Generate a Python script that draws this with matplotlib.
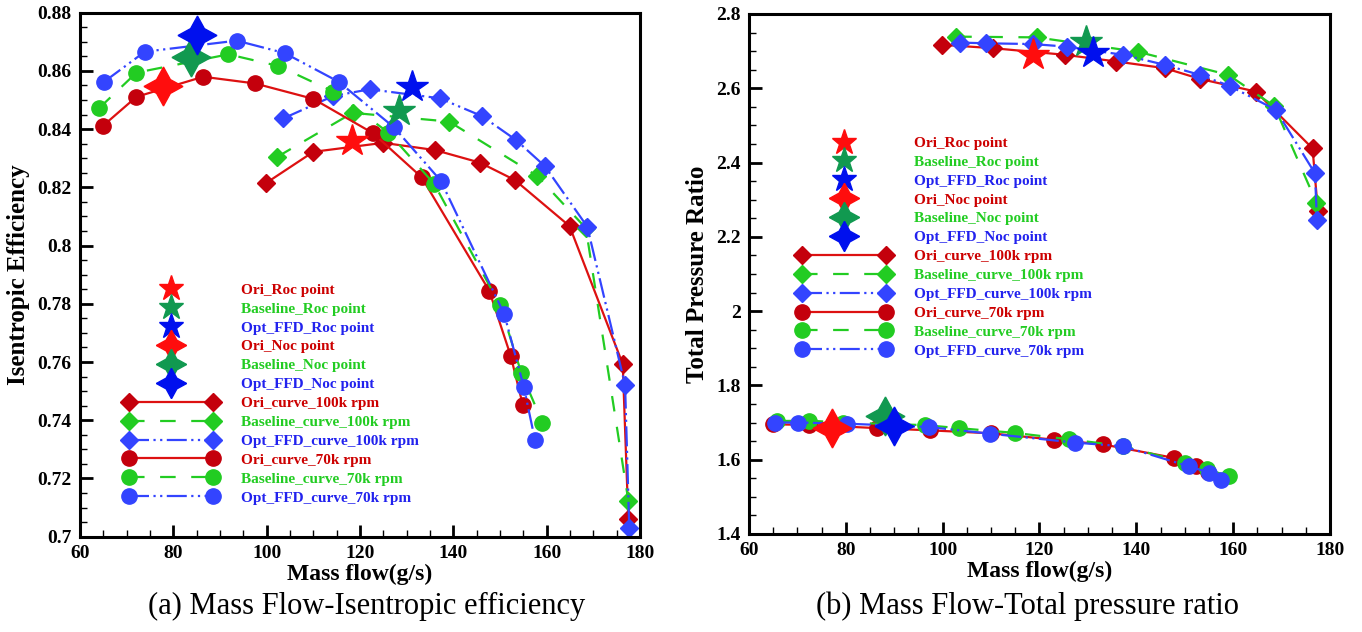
import matplotlib
matplotlib.use('Agg')
import matplotlib.pyplot as plt
from matplotlib.ticker import MultipleLocator, FormatStrFormatter
from matplotlib.legend_handler import HandlerLine2D

plt.rcParams['font.family'] = ['Liberation Serif', 'DejaVu Serif']
plt.rcParams['font.weight'] = 'bold'
plt.rcParams['axes.labelweight'] = 'bold'

# ---------------- (a) mass flow vs isentropic efficiency ----------------
eff_ori100_x = [99.8, 110.0, 125.0, 136.1, 145.7, 153.2, 164.9, 176.3, 177.5]
eff_ori100_y = [0.8214, 0.8322, 0.8353, 0.8328, 0.8285, 0.8225, 0.8067, 0.7593, 0.7060]
eff_base100_x = [102.3, 118.4, 139.1, 158.0, 168.4, 177.5]
eff_base100_y = [0.8305, 0.8456, 0.8426, 0.8239, 0.8060, 0.7124]
eff_opt100_x = [103.6, 114.3, 122.1, 137.1, 146.1, 153.4, 159.6, 168.7, 176.8, 177.7]
eff_opt100_y = [0.8437, 0.8514, 0.8537, 0.8506, 0.8445, 0.8363, 0.8273, 0.8065, 0.7521, 0.7029]

eff_ori70_x = [64.9, 72.1, 86.4, 97.5, 110.0, 122.8, 133.2, 147.7, 152.3, 154.9]
eff_ori70_y = [0.8411, 0.8511, 0.8580, 0.8557, 0.8504, 0.8386, 0.8235, 0.7845, 0.7621, 0.7452]
eff_base70_x = [64.1, 72.1, 91.8, 102.5, 114.3, 126.1, 135.9, 150.0, 154.6, 159.1]
eff_base70_y = [0.8472, 0.8594, 0.8657, 0.8617, 0.8529, 0.8388, 0.8212, 0.7796, 0.7561, 0.7392]
eff_opt70_x = [65.2, 73.9, 93.6, 103.9, 115.4, 127.3, 137.3, 150.9, 155.1, 157.5]
eff_opt70_y = [0.8563, 0.8666, 0.8704, 0.8661, 0.8563, 0.8406, 0.8223, 0.7765, 0.7515, 0.7332]

# Roc / Noc points: ori, baseline, opt
eff_roc_x = [118.2, 128.4, 131.1]
eff_roc_y = [0.8360, 0.8464, 0.8546]
eff_noc_x = [77.7, 83.7, 85.1]
eff_noc_y = [0.8548, 0.8649, 0.8723]

# ---------------- (b) mass flow vs total pressure ratio ----------------
pr_ori100_x = [99.8, 110.3, 125.3, 135.9, 145.9, 153.2, 164.7, 176.4, 177.5]
pr_ori100_y = [2.717, 2.708, 2.690, 2.672, 2.654, 2.625, 2.591, 2.438, 2.270]
pr_base100_x = [102.8, 119.4, 140.4, 159.0, 168.5, 177.2]
pr_base100_y = [2.739, 2.737, 2.698, 2.636, 2.552, 2.292]
pr_opt100_x = [103.6, 109.0, 118.6, 125.6, 137.3, 145.9, 153.1, 159.3, 168.8, 176.9, 177.3]
pr_opt100_y = [2.723, 2.721, 2.719, 2.712, 2.690, 2.663, 2.636, 2.606, 2.542, 2.371, 2.245]

pr_ori70_x = [65.0, 72.3, 86.4, 97.4, 110.0, 122.9, 133.2, 147.7, 152.3, 154.9]
pr_ori70_y = [1.695, 1.694, 1.685, 1.679, 1.671, 1.654, 1.641, 1.605, 1.582, 1.568]
pr_base70_x = [65.7, 72.5, 79.5, 96.4, 103.3, 115.0, 126.0, 137.2, 150.0, 154.6, 159.1]
pr_base70_y = [1.704, 1.705, 1.700, 1.693, 1.685, 1.672, 1.655, 1.637, 1.592, 1.575, 1.555]
pr_opt70_x = [65.4, 70.2, 80.2, 97.1, 109.8, 127.4, 137.3, 150.9, 155.1, 157.5]
pr_opt70_y = [1.700, 1.700, 1.697, 1.688, 1.670, 1.646, 1.636, 1.582, 1.565, 1.545]

pr_roc_x = [118.6, 129.6, 131.0]
pr_roc_y = [2.690, 2.725, 2.696]
pr_noc_x = [77.1, 88.1, 90.0]
pr_noc_y = [1.684, 1.717, 1.692]

names = ['Ori', 'Baseline', 'Opt_FFD']
line_col = ['#dd1111', '#22cc22', '#3344ff']
mark_col = ['#c4000c', '#22cc22', '#3344ff']
star_col = ['#ff0d0d', '#119950', '#0010ee']
text_col = ['#cc0000', '#22cc22', '#2222ee']
styles = ['-', (0, (7, 7)), (0, (9, 2, 1, 2, 1, 2))]


def small_star(legend_handle, orig):
    legend_handle.update_from(orig)
    legend_handle.set_markersize(orig.get_markersize() * 0.78)


def draw_panel(ax, c100, c70, roc_x, roc_y, noc_x, noc_y):
    stars = []
    for i in range(3):
        h, = ax.plot(roc_x[i], roc_y[i], ls='none', marker='*', ms=24,
                     color=star_col[i], label=names[i] + '_Roc point', zorder=5)
        stars.append(h)
    for i in range(3):
        h, = ax.plot(noc_x[i], noc_y[i], ls='none', marker=(4, 1, 0), ms=28,
                     color=star_col[i], label=names[i] + '_Noc point', zorder=5)
        stars.append(h)
    lines = []
    for i in range(3):
        x, y = c100[i]
        h, = ax.plot(x, y, ls=styles[i], lw=1.6, color=line_col[i], marker='D', ms=9,
                     mfc=mark_col[i], mec=mark_col[i], label=names[i] + '_curve_100k rpm')
        lines.append(h)
    for i in range(3):
        x, y = c70[i]
        h, = ax.plot(x, y, ls=styles[i], lw=1.6, color=line_col[i], marker='o', ms=11,
                     mfc=mark_col[i], mec=mark_col[i], label=names[i] + '_curve_70k rpm')
        lines.append(h)
    hmap = {h: HandlerLine2D(numpoints=1, update_func=small_star) for h in stars}
    leg = ax.legend(handles=stars + lines, handler_map=hmap, numpoints=2, frameon=False,
                    fontsize=11, labelspacing=0.34, handlelength=6.1, handletextpad=1.5,
                    borderpad=0, borderaxespad=0, loc='upper left')
    for k, t in enumerate(leg.get_texts()):
        t.set_color(text_col[k % 3])
    ax.set_xlim(60, 180)
    ax.xaxis.set_major_locator(MultipleLocator(20))
    ax.xaxis.set_minor_locator(MultipleLocator(5))
    ax.tick_params(which='major', direction='in', length=9, width=2, labelsize=14, pad=6)
    ax.tick_params(which='minor', direction='in', length=5, width=1)
    for s in ax.spines.values():
        s.set_linewidth(2.2)
    ax.set_xlabel('Mass flow(g/s)', fontsize=17, labelpad=1)
    return leg


fig = plt.figure(figsize=(13.62, 6.32), dpi=100)
ax1 = fig.add_axes([0.0587, 0.1508, 0.4112, 0.8291])
ax2 = fig.add_axes([0.5499, 0.1551, 0.4266, 0.8228])

leg1 = draw_panel(ax1,
                  [(eff_ori100_x, eff_ori100_y), (eff_base100_x, eff_base100_y), (eff_opt100_x, eff_opt100_y)],
                  [(eff_ori70_x, eff_ori70_y), (eff_base70_x, eff_base70_y), (eff_opt70_x, eff_opt70_y)],
                  eff_roc_x, eff_roc_y, eff_noc_x, eff_noc_y)
leg1.set_bbox_to_anchor((0.080, 0.484), transform=ax1.transAxes)
ax1.set_ylim(0.7, 0.88)
ax1.yaxis.set_major_locator(MultipleLocator(0.02))
ax1.yaxis.set_minor_locator(MultipleLocator(0.005))
ax1.yaxis.set_major_formatter(FormatStrFormatter('%g'))
ax1.set_ylabel('Isentropic Efficiency', fontsize=18, labelpad=5)

leg2 = draw_panel(ax2,
                  [(pr_ori100_x, pr_ori100_y), (pr_base100_x, pr_base100_y), (pr_opt100_x, pr_opt100_y)],
                  [(pr_ori70_x, pr_ori70_y), (pr_base70_x, pr_base70_y), (pr_opt70_x, pr_opt70_y)],
                  pr_roc_x, pr_roc_y, pr_noc_x, pr_noc_y)
leg2.set_bbox_to_anchor((0.084, 0.765), transform=ax2.transAxes)
ax2.set_ylim(1.4, 2.8)
ax2.yaxis.set_major_locator(MultipleLocator(0.2))
ax2.yaxis.set_minor_locator(MultipleLocator(0.05))
ax2.yaxis.set_major_formatter(FormatStrFormatter('%g'))
ax2.set_ylabel('Total Pressure Ratio', fontsize=18, labelpad=5)

fig.text(367 / 1362, 1 - 606 / 632, '(a) Mass Flow-Isentropic efficiency',
         ha='center', va='center', fontsize=22, fontweight='normal')
fig.text(1028 / 1362, 1 - 606 / 632, '(b) Mass Flow-Total pressure ratio',
         ha='center', va='center', fontsize=22, fontweight='normal')

fig.savefig('out.png', dpi=100)
